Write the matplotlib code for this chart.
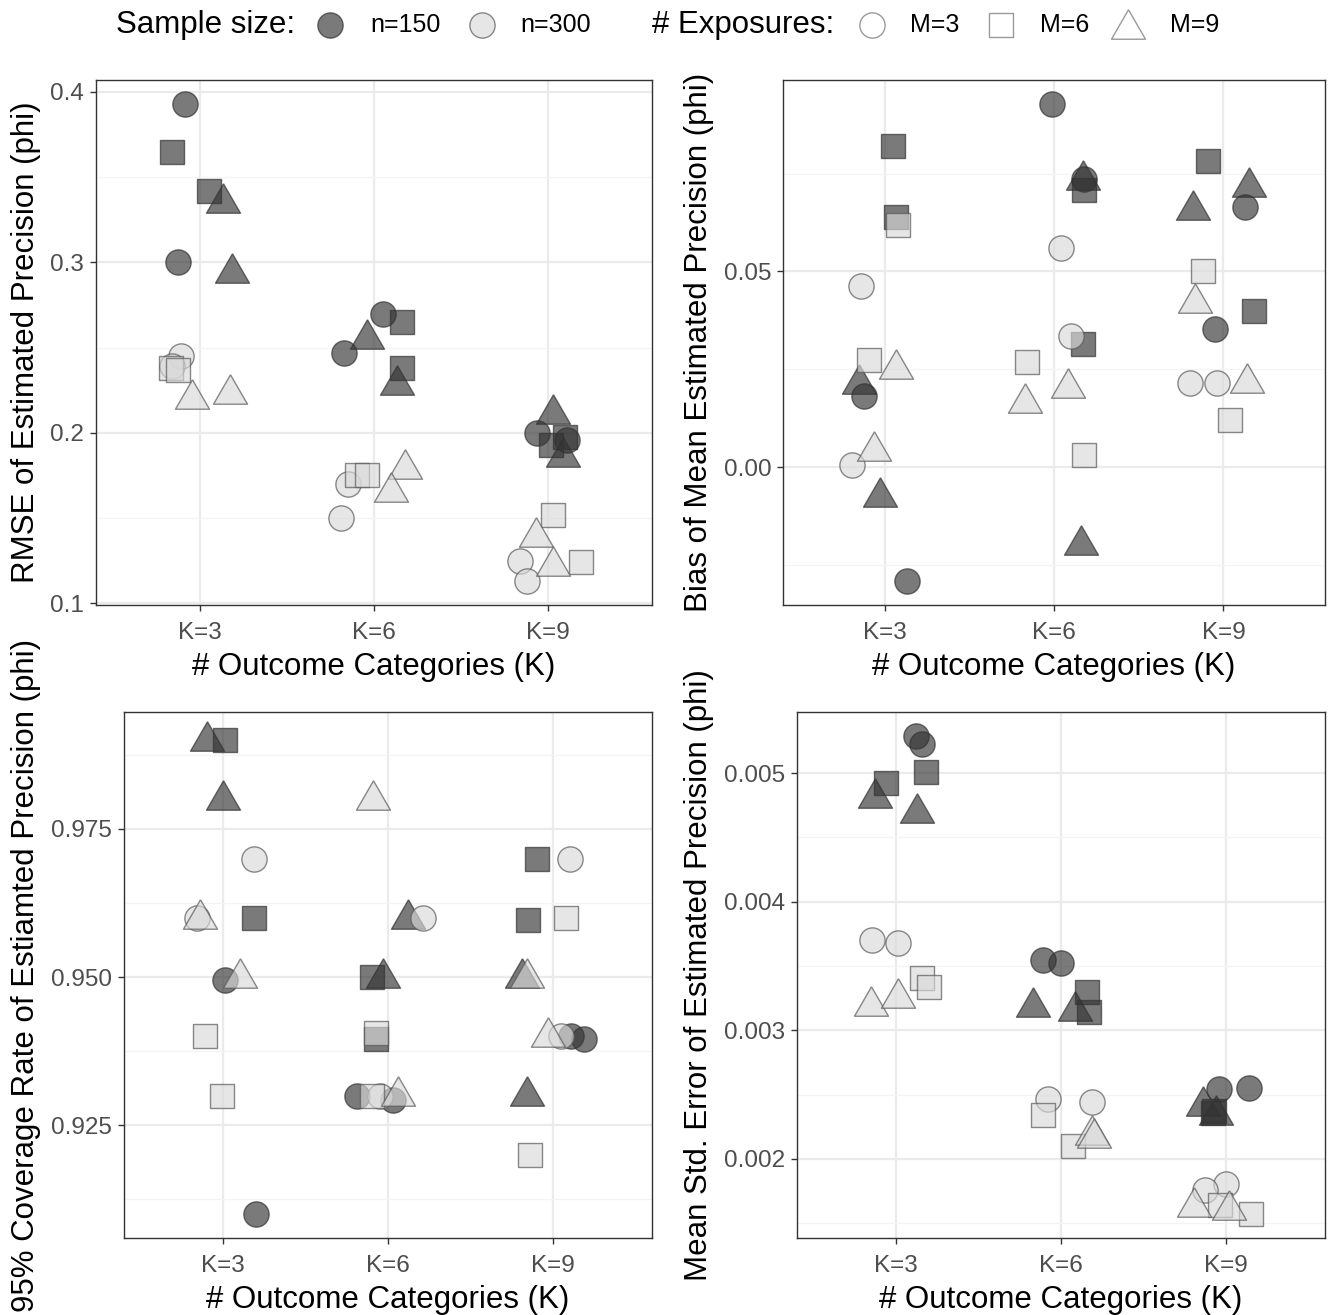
import numpy as np
import matplotlib.pyplot as plt
from matplotlib.ticker import MultipleLocator, FormatStrFormatter

plt.rcParams['font.family'] = ['Liberation Sans', 'DejaVu Sans']

W, H = 1328, 1315

K_LABELS = ['K=3', 'K=6', 'K=9']

# order of the 12 points inside every K row:
# n=150: M3, M3, M6, M6, M9, M9 | n=300: M3, M3, M6, M6, M9, M9
ORDER_N = [150, 150, 150, 150, 150, 150, 300, 300, 300, 300, 300, 300]
ORDER_M = [3, 3, 6, 6, 9, 9, 3, 3, 6, 6, 9, 9]

# --- RMSE of estimated precision ---
rmse_jit = [
    [-0.09, -0.13, -0.16, 0.05, 0.13, 0.18, -0.11, -0.16, -0.17, -0.13, -0.05, 0.17],
    [0.05, -0.17, 0.16, 0.16, -0.04, 0.13, -0.15, -0.19, -0.10, -0.04, 0.18, 0.10],
    [-0.06, 0.11, 0.10, 0.02, 0.03, 0.09, -0.16, -0.12, 0.03, 0.19, -0.07, 0.03],
]
rmse_val = [
    [0.393, 0.300, 0.365, 0.342, 0.338, 0.297, 0.245, 0.239, 0.238, 0.237, 0.223, 0.226],
    [0.270, 0.247, 0.265, 0.238, 0.258, 0.231, 0.170, 0.150, 0.175, 0.175, 0.182, 0.168],
    [0.200, 0.196, 0.1975, 0.1926, 0.214, 0.189, 0.125, 0.113, 0.152, 0.124, 0.142, 0.125],
]

# --- Bias of mean estimated precision ---
bias_jit = [
    [0.13, -0.12, 0.05, 0.07, -0.15, -0.03, -0.14, -0.19, 0.08, -0.09, 0.07, -0.06],
    [-0.01, 0.18, 0.18, 0.17, 0.17, 0.16, 0.04, 0.10, -0.16, 0.18, 0.08, -0.17],
    [0.13, -0.05, -0.09, 0.18, 0.15, -0.18, -0.20, -0.04, -0.12, 0.04, -0.17, 0.14],
]
bias_val = [
    [-0.0291, 0.0182, 0.0820, 0.0638, 0.0224, -0.0064, 0.0464, 0.0006, 0.0618, 0.0275, 0.0263, 0.0055],
    [0.0928, 0.0737, 0.0708, 0.0315, 0.0746, -0.0187, 0.0559, 0.0336, 0.0268, 0.0031, 0.0216, 0.0178],
    [0.0665, 0.0352, 0.0781, 0.0398, 0.0729, 0.0669, 0.0216, 0.0216, 0.0502, 0.0121, 0.0432, 0.0229],
]

# --- 95% coverage rate ---
cover_jit = [
    [0.01, 0.20, 0.01, 0.19, -0.095, 0.00, 0.19, -0.16, -0.11, -0.005, -0.14, 0.10],
    [-0.19, 0.03, -0.095, -0.07, 0.12, -0.03, 0.21, -0.05, -0.07, -0.10, -0.09, 0.06],
    [0.11, 0.19, -0.10, -0.15, -0.19, -0.16, 0.10, 0.05, 0.08, -0.14, -0.16, -0.03],
]
cover_val = [
    [0.9495, 0.910, 0.990, 0.960, 0.9907, 0.9807, 0.970, 0.960, 0.940, 0.930, 0.9607, 0.9507],
    [0.930, 0.9293, 0.950, 0.9395, 0.9607, 0.9507, 0.960, 0.930, 0.9405, 0.930, 0.9807, 0.9307],
    [0.940, 0.9395, 0.970, 0.9596, 0.9507, 0.9307, 0.970, 0.940, 0.960, 0.920, 0.9507, 0.9407],
]

# --- Mean std. error of estimated precision ---
se_jit = [
    [0.12, 0.16, 0.18, -0.06, -0.13, 0.13, -0.145, 0.014, 0.16, 0.20, -0.15, 0.01],
    [-0.11, 0.00, 0.16, 0.17, -0.17, 0.085, -0.08, 0.19, -0.11, 0.07, 0.185, 0.20],
    [0.14, -0.04, -0.07, -0.08, -0.14, -0.06, 0.00, -0.13, -0.035, 0.15, -0.195, 0.02],
]
se_val = [
    [0.00529, 0.005227, 0.005012, 0.004927, 0.004845, 0.004729, 0.003700, 0.003677, 0.003405, 0.003338, 0.003225, 0.003291],
    [0.003547, 0.003522, 0.003295, 0.003144, 0.003217, 0.003186, 0.002462, 0.002442, 0.002338, 0.002098, 0.002222, 0.002204],
    [0.002550, 0.002540, 0.002375, 0.002355, 0.002452, 0.002380, 0.001806, 0.001757, 0.001640, 0.001570, 0.001667, 0.001640],
]

# styling
FILL = {150: (0.2, 0.2, 0.2, 0.65), 300: (0.85, 0.85, 0.85, 0.65)}
EDGE = {150: (0.2, 0.2, 0.2, 0.7), 300: (0.35, 0.35, 0.35, 0.7)}
TRI = [(0, 0.866), (-1, -0.866), (1, -0.866), (0, 0.866)]
MARKER = {3: ('o', 330), 6: ('s', 285), 9: (TRI, 600)}

TICK_COLOR = '#4d4d4d'
GRID_MAJOR = '#ebebeb'
GRID_MINOR = '#f4f4f4'
TITLE_SIZE = 22.5
TICK_SIZE = 17.5


def px_axes(x0, y0, x1, y1):
    return fig.add_axes([x0 / W, 1 - y1 / H, (x1 - x0) / W, (y1 - y0) / H])


def draw_panel(ax, jit, val, ylabel, major, fmt):
    jit = np.array(jit)
    val = np.array(val)
    for k in range(3):
        for i in range(12):
            n, m = ORDER_N[i], ORDER_M[i]
            marker, size = MARKER[m]
            ax.scatter(k + 1 + jit[k, i], val[k, i], s=size, marker=marker,
                       facecolor=FILL[n], edgecolor=EDGE[n], linewidth=1.0,
                       zorder=3)
    lo, hi = val.min(), val.max()
    pad = (hi - lo) * 0.05
    ax.set_ylim(lo - pad, hi + pad)
    ax.set_xlim(0.4, 3.6)
    ax.set_xticks([1, 2, 3])
    ax.set_xticklabels(K_LABELS)
    ax.yaxis.set_major_locator(MultipleLocator(major))
    ax.yaxis.set_minor_locator(MultipleLocator(major / 2))
    ax.yaxis.set_major_formatter(FormatStrFormatter(fmt))
    ax.grid(True, which='major', color=GRID_MAJOR, linewidth=1.6, zorder=0)
    ax.grid(True, which='minor', axis='y', color=GRID_MINOR, linewidth=0.9, zorder=0)
    ax.set_axisbelow(True)
    ax.tick_params(which='major', length=4.5, width=1.0, color='#333333',
                   labelcolor=TICK_COLOR, labelsize=TICK_SIZE, pad=4)
    ax.tick_params(axis='x', which='major', pad=8)
    ax.tick_params(which='minor', length=0)
    for sp in ax.spines.values():
        sp.set_color('#333333')
        sp.set_linewidth(1.0)
    ax.set_xlabel('# Outcome Categories (K)', fontsize=TITLE_SIZE, labelpad=5.5)
    ax.set_ylabel(ylabel, fontsize=TITLE_SIZE, labelpad=7)


fig = plt.figure(figsize=(W / 100, H / 100), dpi=100)

ax1 = px_axes(96, 80, 652, 605)
ax2 = px_axes(783, 80, 1325, 605)
ax3 = px_axes(124, 712, 652, 1238)
ax4 = px_axes(797, 712, 1325, 1238)

draw_panel(ax1, rmse_jit, rmse_val, 'RMSE of Estimated Precision (phi)', 0.1, '%.1f')
draw_panel(ax2, bias_jit, bias_val, 'Bias of Mean Estimated Precision (phi)', 0.05, '%.2f')
draw_panel(ax3, cover_jit, cover_val, '95% Coverage Rate of Estiamted Precision (phi)', 0.025, '%.3f')
draw_panel(ax4, se_jit, se_val, 'Mean Std. Error of Estimated Precision (phi)', 0.001, '%.3f')

# legend strip on top (pixel coordinates)
lax = fig.add_axes([0, 0, 1, 1], zorder=-1)
lax.set_xlim(0, W)
lax.set_ylim(H, 0)
lax.axis('off')
ly = 25
lax.text(116, ly, 'Sample size:', fontsize=TITLE_SIZE, va='center', ha='left')
lax.scatter(330, ly, s=330, marker='o', facecolor=FILL[150], edgecolor=EDGE[150], linewidth=1.0)
lax.text(370, ly, 'n=150', fontsize=18, va='center', ha='left')
lax.scatter(482, ly, s=330, marker='o', facecolor=FILL[300], edgecolor=EDGE[300], linewidth=1.0)
lax.text(520, ly, 'n=300', fontsize=18, va='center', ha='left')
lax.text(652, ly, '# Exposures:', fontsize=TITLE_SIZE, va='center', ha='left')
open_edge = '#9a9a9a'
lax.scatter(872, ly, s=330, marker='o', facecolor='white', edgecolor=open_edge, linewidth=1.0)
lax.text(910, ly, 'M=3', fontsize=18, va='center', ha='left')
lax.scatter(1001, ly, s=285, marker='s', facecolor='white', edgecolor=open_edge, linewidth=1.0)
lax.text(1040, ly, 'M=6', fontsize=18, va='center', ha='left')
lax.scatter(1128, ly - 1, s=600, marker=TRI, facecolor='white', edgecolor=open_edge, linewidth=1.0)
lax.text(1170, ly, 'M=9', fontsize=18, va='center', ha='left')

fig.savefig('out.png', dpi=100)
